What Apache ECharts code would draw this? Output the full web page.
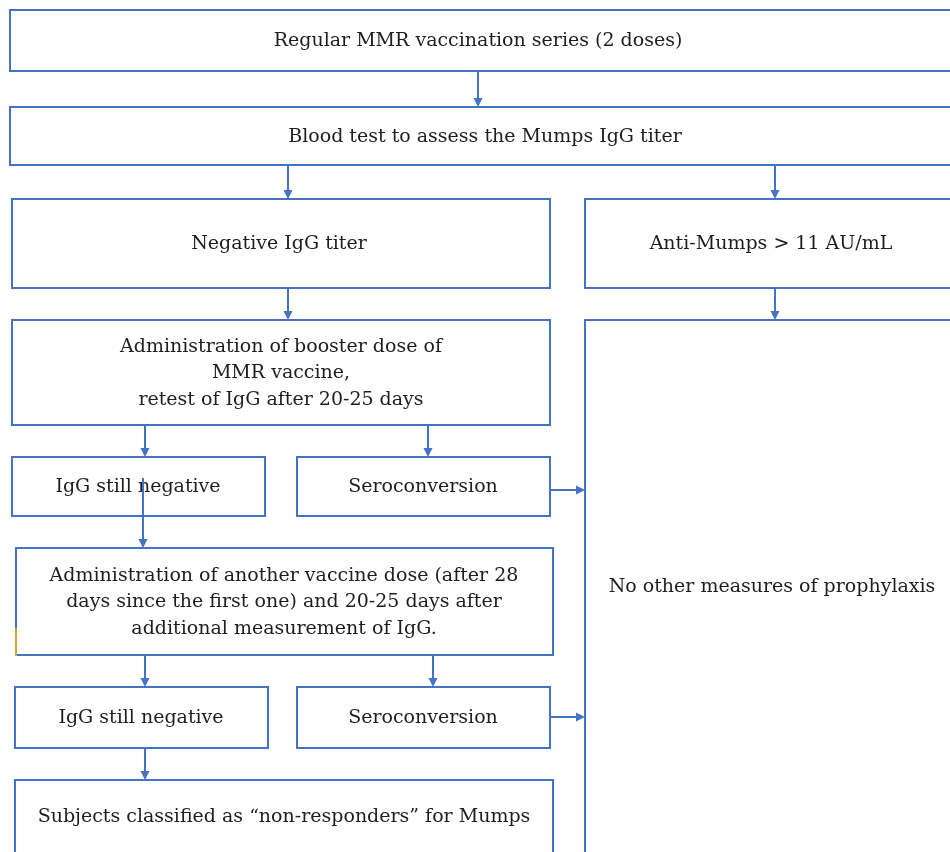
<!DOCTYPE html>
<html>
<head>
<meta charset="utf-8">
<script src="https://cdn.jsdelivr.net/npm/echarts@6/dist/echarts.min.js"></script>
<style>
html, body { margin: 0; padding: 0; background: #fff; }
#flow { width: 950px; height: 852px; }
</style>
</head>
<body>
<div id="flow"></div>
<script>
// box texts, same order as boxGeom
var labels = [
    'Regular MMR vaccination series (2 doses)',
    'Blood test to assess the Mumps IgG titer',
    'Negative IgG titer',
    'Anti-Mumps > 11 AU/mL',
    'Administration of booster dose of\nMMR vaccine,\nretest of IgG after 20-25 days',
    'No other measures of prophylaxis',
    'IgG still negative',
    'Seroconversion',
    'Administration of another vaccine dose (after 28\ndays since the first one) and 20-25 days after\nadditional measurement of IgG.',
    'IgG still negative',
    'Seroconversion',
    'Subjects classified as \u201cnon-responders\u201d for Mumps'
];
// [x1, y1, x2, y2, text centre x]
var boxGeom = [
    [10, 10, 962, 71, 478],
    [10, 107, 962, 165, 485],
    [12, 199, 550, 288, 279],
    [585, 199, 962, 288, 771],
    [12, 320, 550, 425, 281],
    [585, 320, 962, 860, 772],
    [12, 457, 265, 516, 138],
    [297, 457, 550, 516, 423],
    [16, 548, 553, 655, 284],
    [15, 687, 268, 748, 141],
    [297, 687, 550, 748, 423],
    [15, 780, 553, 860, 284]
];
// arrows [x1, y1, x2, y2], head at the end
var arrowGeom = [
    [478, 71, 478, 107],
    [288, 165, 288, 199],
    [775, 165, 775, 199],
    [288, 288, 288, 320],
    [775, 288, 775, 320],
    [145, 425, 145, 457],
    [428, 425, 428, 457],
    [550, 490, 585, 490],
    [143, 478, 143, 548],
    [145, 655, 145, 687],
    [433, 655, 433, 687],
    [550, 717, 585, 717],
    [145, 748, 145, 780]
];
// stray orange mark at the left of the second admin box
var strayMark = [[16, 628, 16, 656]];

var blue = '#4472c4';
var textFont = '19px "DejaVu Serif", serif';

function renderBox(params, api) {
    var p1 = api.coord([api.value(0), api.value(1)]);
    var p2 = api.coord([api.value(2), api.value(3)]);
    var tx = api.coord([api.value(4), 0])[0];
    return {
        type: 'group',
        children: [{
            type: 'rect',
            shape: { x: p1[0], y: p1[1], width: p2[0] - p1[0], height: p2[1] - p1[1] },
            style: { fill: '#fff', stroke: blue, lineWidth: 2 }
        }, {
            type: 'text',
            x: tx,
            y: (p1[1] + Math.min(p2[1], 852)) / 2 + 1,
            style: {
                text: labels[params.dataIndex],
                font: textFont,
                fill: '#1e1e1e',
                align: 'center',
                verticalAlign: 'middle',
                lineHeight: 26.5
            }
        }]
    };
}

function renderArrow(params, api) {
    var a = api.coord([api.value(0), api.value(1)]);
    var b = api.coord([api.value(2), api.value(3)]);
    var dx = b[0] - a[0], dy = b[1] - a[1];
    var len = Math.sqrt(dx * dx + dy * dy);
    var ux = dx / len, uy = dy / len;
    var hl = 9, hw = 4.5;
    var base = [b[0] - ux * hl, b[1] - uy * hl];
    return {
        type: 'group',
        children: [{
            type: 'line',
            shape: { x1: a[0], y1: a[1], x2: base[0], y2: base[1] },
            style: { stroke: blue, lineWidth: 2 }
        }, {
            type: 'polygon',
            shape: { points: [
                [b[0], b[1]],
                [base[0] - uy * hw, base[1] + ux * hw],
                [base[0] + uy * hw, base[1] - ux * hw]
            ] },
            style: { fill: blue }
        }]
    };
}

function renderStray(params, api) {
    var a = api.coord([api.value(0), api.value(1)]);
    var b = api.coord([api.value(2), api.value(3)]);
    return {
        type: 'line',
        shape: { x1: a[0], y1: a[1], x2: b[0], y2: b[1] },
        style: { stroke: '#d8a53c', lineWidth: 2 }
    };
}

var option_flow = {
    animation: false,
    backgroundColor: '#fff',
    grid: { left: 0, right: 0, top: 0, bottom: 0 },
    xAxis: { type: 'value', min: 0, max: 950, show: false },
    yAxis: { type: 'value', min: 0, max: 852, inverse: true, show: false },
    series: [{
        type: 'custom',
        renderItem: renderBox,
        data: boxGeom,
        z: 2
    }, {
        type: 'custom',
        renderItem: renderArrow,
        data: arrowGeom,
        z: 3
    }, {
        type: 'custom',
        renderItem: renderStray,
        data: strayMark,
        z: 4
    }]
};

var chart_flow = echarts.init(document.getElementById('flow'));
chart_flow.setOption(option_flow);
</script>
</body>
</html>
